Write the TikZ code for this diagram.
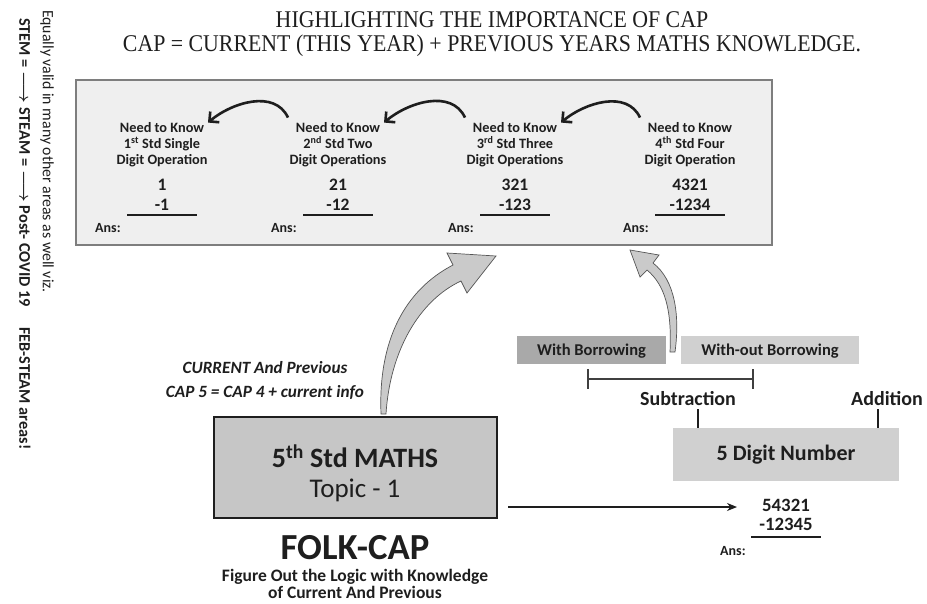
\documentclass[tikz,border=0pt]{standalone}
\usepackage{amsmath}
\usepackage{fontspec}
\setmainfont{Carlito}
\newfontfamily\titlefont[FakeStretch=0.91]{Liberation Serif}
\usetikzlibrary{arrows.meta,positioning}

\definecolor{ink}{HTML}{1E1E1E}
\definecolor{panelfill}{HTML}{EFEFEF}
\definecolor{paneledge}{HTML}{7E7E7E}
\definecolor{boxfill}{HTML}{C6C6C6}
\definecolor{darkfill}{HTML}{A9A9A9}
\definecolor{lightfill}{HTML}{D0D0D0}
\definecolor{arrowfill}{HTML}{CACACA}
\definecolor{arrowedge}{HTML}{555555}

\begin{document}
\begin{tikzpicture}[x=1pt,y=-1pt,
    every node/.style={text=ink, inner sep=0pt},
    title/.style={font=\titlefont\fontsize{24}{26}\selectfont},
    know/.style={font=\bfseries\fontsize{14.3}{16}\selectfont, align=center},
    sum/.style={font=\bfseries\fontsize{17.5}{20}\selectfont, align=center},
    ans/.style={font=\bfseries\fontsize{14}{16}\selectfont, anchor=west},
    bar/.style={draw=ink, line width=1.4pt},
    back/.style={draw=ink, line width=2.6pt,
        -{Straight Barb[length=7pt,width=14pt]}},
    block/.style={fill=arrowfill, draw=arrowedge, line width=0.7pt},
    tag/.style={font=\bfseries\fontsize{16.5}{18}\selectfont,
        minimum height=28, text depth=0pt},
    ]
    \useasboundingbox (0,0) rectangle (927,603);

    % side notes
    \node[rotate=-90, anchor=west, font=\fontsize{15.8}{16}\selectfont]
        (viz) at (47,10) {Equally valid in many other areas as well viz.};
    \node[rotate=-90, anchor=west, font=\bfseries\fontsize{16.3}{17}\selectfont]
        (stem) at (25,18) {STEM = $\boldsymbol{\longrightarrow}$ STEAM =
        $\boldsymbol{\longrightarrow}$ Post-\ COVID 19\quad\ FEB-STEAM areas!};

    % heading
    \node[title] (t1) at (492,20) {HIGHLIGHTING THE IMPORTANCE OF CAP};
    \node[title] (t2) at (492,46)
        {CAP = CURRENT (THIS YEAR) + PREVIOUS YEARS MATHS KNOWLEDGE.};

    % previous years panel
    \node[draw=paneledge, fill=panelfill, line width=1.8pt,
        minimum width=696, minimum height=165] (board) at (424,162.5) {};

    \foreach \i/\x/\suff/\cnt/\kindword/\numa/\numb in {
        1/162/st/Single/Operation/1/-1,
        2/338/nd/Two/Operations/21/-12,
        3/515/rd/Three/Operations/321/-123,
        4/690/th/Four/Operation/4321/-1234} {
        \node[know] (k\i) at (\x,145)
            {Need to Know\\\i\textsuperscript{\suff} Std \cnt\\Digit \kindword};
        \node[sum] (s\i) at (\x,195) {\numa\\\numb};
        \coordinate (r\i) at (\x,215);
        \draw[bar] ([xshift=-35]r\i) -- ([xshift=35]r\i);
        \node[ans] (a\i) at (\x-67,228) {Ans:};
    }

    \foreach \i/\j in {1/2,2/3,3/4}
        \draw[back] ([shift={(-50,-5)}]k\j.north) to[out=115,in=40]
            ([shift={(46,0)}]k\i.north);

    % this year
    \node[draw=ink, fill=boxfill, line width=1.2pt,
        minimum width=283, minimum height=101] (maths) at (355.5,467.5) {};
    \node[font=\bfseries\fontsize{28}{34}\selectfont] (mt) at (355,456)
        {5\textsuperscript{th} Std MATHS};
    \node[font=\fontsize{27}{34}\selectfont] (tp) at (355,490) {Topic - 1};

    \node[font=\bfseries\itshape\fontsize{17.2}{24}\selectfont, align=center]
        (cur) at (265,380) {CURRENT And Previous\\CAP 5 = CAP 4 + current info};

    \node[font=\bfseries\fontsize{36.7}{38}\selectfont] (folk) at (355,548) {FOLK-CAP};
    \node[font=\bfseries\fontsize{17.5}{17}\selectfont, align=center]
        (fig) at (355,583.5) {Figure Out the Logic with Knowledge\\of Current And Previous};

    % big arrows
    \path[block] (381,414) .. controls (378,340) and (405,290) .. (453,265)
        -- (447,253) -- (496,256) -- (467,293) -- (461,281)
        .. controls (420,300) and (390,350) .. (386,414) -- cycle;
    \path[block] (670,352) .. controls (672,310) and (665,285) .. (647,270)
        -- (640,277) -- (630,250) -- (659,255) -- (653,263)
        .. controls (675,280) and (680,315) .. (675,352) -- cycle;

    % five digit side
    \node[tag, fill=darkfill, minimum width=149] (wb) at (591.5,350) {With Borrowing};
    \node[tag, fill=lightfill, minimum width=178] (wob) at (770,350) {With-out Borrowing};
    \coordinate (bl) at (588,379);
    \coordinate (br) at (753,379);
    \draw[bar, draw=ink!85] (bl) -- (br)
        ([yshift=10]bl) -- ([yshift=-10]bl) ([yshift=10]br) -- ([yshift=-10]br);

    \node[font=\bfseries\fontsize{20}{22}\selectfont] (sub) at (688,399) {Subtraction};
    \node[font=\bfseries\fontsize{20}{22}\selectfont] (add) at (887,399) {Addition};
    \node[fill=lightfill, minimum width=226, minimum height=53,
        font=\bfseries\fontsize{22}{24}\selectfont] (dig) at (786,454.5) {5 Digit Number};
    \draw[bar] ([xshift=10,yshift=-3]sub.south) -- ([xshift=10]sub.south |- dig.north);
    \draw[bar] ([xshift=-9,yshift=-3]add.south) -- ([xshift=-9]add.south |- dig.north);

    \coordinate (m1) at (508,507);
    \coordinate (m2) at (737,507);
    \draw[draw=ink, line width=1.2pt, -{Stealth[length=10pt,width=8pt]}] (m1) -- (m2);
    \node[sum, font=\bfseries\fontsize{18.8}{19}\selectfont] (s5) at (786,515) {54321\\-12345};
    \coordinate (r5) at (786,537);
    \draw[bar] ([xshift=-35]r5) -- ([xshift=35]r5);
    \node[ans] (a5) at (720,551) {Ans:};
\end{tikzpicture}
\end{document}
